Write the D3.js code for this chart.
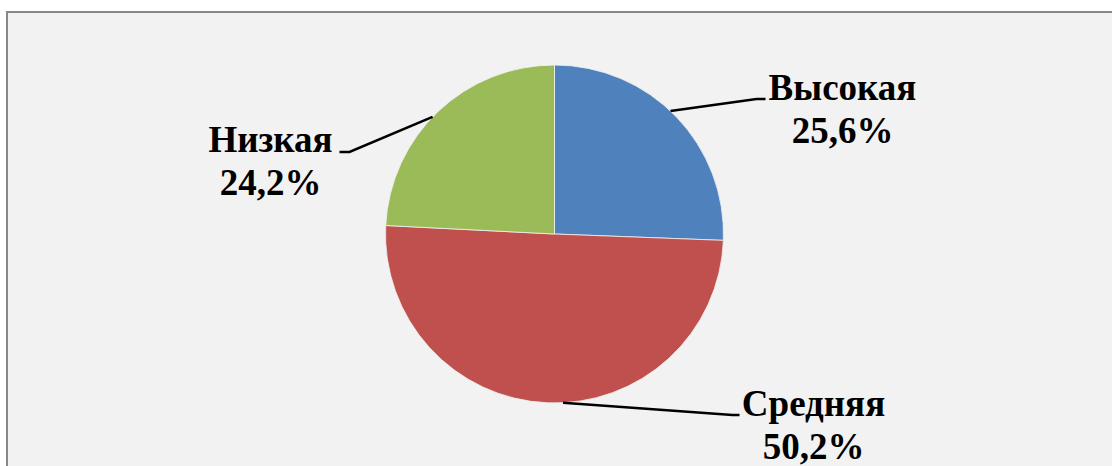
<!DOCTYPE html>
<html lang="ru">
<head>
<meta charset="utf-8">
<script src="https://cdn.jsdelivr.net/npm/d3@7"></script>
<style>
  html, body { margin: 0; padding: 0; background: #ffffff; }
  svg { display: block; }
</style>
</head>
<body>
<svg id="chart" width="1112" height="466"></svg>
<script>
// Уровни и их доли, %
const categories = ["Высокая", "Средняя", "Низкая"];
const values = [25.6, 50.2, 24.2];
const valueLabels = ["25,6%", "50,2%", "24,2%"];
const colors = ["#4F81BD", "#C0504D", "#9BBB59"];

const width = 1112, height = 466;
const cx = 554.5, cy = 234, radius = 169;

const svg = d3.select("#chart");

// Chart area with frame
svg.append("rect")
  .attr("x", 7).attr("y", 12)
  .attr("width", width + 20).attr("height", height + 20)
  .attr("fill", "#F2F2F2")
  .attr("stroke", "#878787")
  .attr("stroke-width", 2);

const pie = d3.pie().sort(null).value(d => d)(values);
const arc = d3.arc().innerRadius(0).outerRadius(radius);

const g = svg.append("g").attr("transform", `translate(${cx},${cy})`);

g.selectAll("path.slice")
  .data(pie)
  .join("path")
  .attr("class", "slice")
  .attr("d", arc)
  .attr("fill", (d, i) => colors[i])
  .attr("stroke", "#F2F2F2")
  .attr("stroke-opacity", 0.8)
  .attr("stroke-width", 1);

// Label placement (relative to the pie centre): text anchor, elbow of leader line
const labelPos = [
  { x: 288, y: -134, elbowX: 202, endX: 211 },
  { x: 259, y: 182, elbowX: 178, endX: 185 },
  { x: -284, y: -82, elbowX: -205, endX: -215 }
];

// Leader lines leave the slice edge a little before its mid-angle
function edgePoint(d) {
  const a = d.startAngle + 0.47 * (d.endAngle - d.startAngle);
  return [radius * Math.sin(a), -radius * Math.cos(a)];
}

const line = d3.line();

pie.forEach((d, i) => {
  const p = labelPos[i];
  const start = edgePoint(d);
  const lineY = p.y - 1 - (i === 2 ? -1 : 0);
  g.append("path")
    .attr("d", line([start, [p.elbowX, lineY], [p.endX, lineY]]))
    .attr("fill", "none")
    .attr("stroke", "#000")
    .attr("stroke-width", 2.5);

  const t = g.append("text")
    .attr("x", p.x)
    .attr("y", p.y)
    .attr("text-anchor", "middle")
    .attr("font-family", "'Liberation Serif', 'Times New Roman', serif")
    .attr("font-weight", "bold")
    .attr("font-size", 37)
    .attr("fill", "#000");
  t.append("tspan").attr("x", p.x).attr("dy", 0).text(categories[i]);
  t.append("tspan").attr("x", p.x).attr("dy", 43).text(valueLabels[i]);
});
</script>
</body>
</html>
